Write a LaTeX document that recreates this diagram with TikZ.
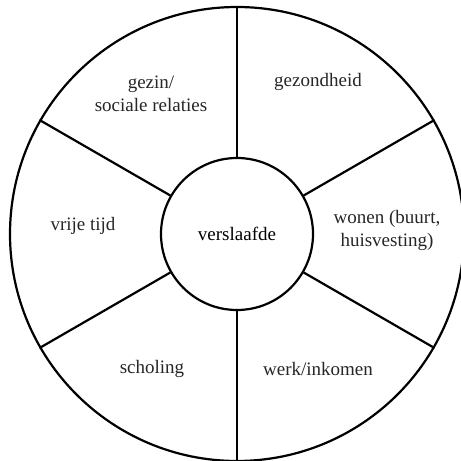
\documentclass[tikz,border=0pt]{standalone}
\usepackage{fontspec}
\setmainfont{Liberation Serif}

\tikzset{
  ring/.style={circle, draw, line width=2.2pt, inner sep=0pt},
  spoke/.style={line width=2.2pt},
  sector/.style={align=center, inner sep=1pt, text=black!85}
}

\begin{document}
\begin{tikzpicture}[x=1pt, y=1pt, font=\fontsize{19}{23}\selectfont]
\useasboundingbox (0,0) rectangle (461,461);
%% ---- Wheel ----
\node[ring, minimum size=454pt] (rim) at (237,227) {};
\node[ring, minimum size=152pt] (hub) at (237,227) {verslaafde};
\foreach \a in {90,30,-30,-90,-150,150}
  \draw[spoke] (hub.\a) -- (rim.\a);
%% ---- Sectors ----
\node[sector] (gezin)  at (151,367) {gezin/\\sociale relaties};
\node[sector] (gezond) at (318,379) {gezondheid};
\node[sector] (wonen)  at (387,231) {wonen (buurt,\\huisvesting)};
\node[sector] (werk)   at (318,92)  {werk/inkomen};
\node[sector] (school) at (152,92)  {scholing};
\node[sector] (vrij)   at (83,235)  {vrije tijd};
\end{tikzpicture}
\end{document}
